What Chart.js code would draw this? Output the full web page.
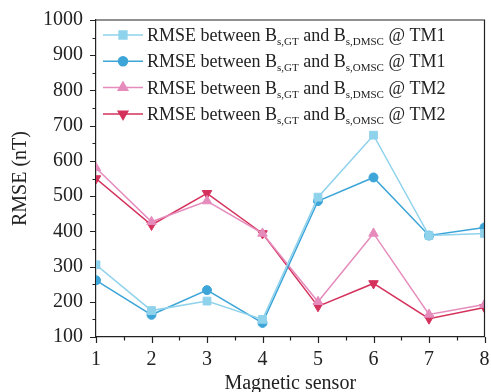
<!DOCTYPE html>
<html>
<head>
<meta charset="utf-8">
<script src="https://cdn.jsdelivr.net/npm/chart.js@4.4.0/dist/chart.umd.min.js"></script>
<style>
html, body { margin: 0; padding: 0; background: #fff; }
</style>
</head>
<body>
<canvas id="chart" width="491" height="392"></canvas>
<script>
// values
const sensors = [1, 2, 3, 4, 5, 6, 7, 8]
const dmscTM1 = [305, 175, 202, 150, 497, 673, 388, 394]
const omscTM1 = [261, 163, 233, 140, 486, 553, 388, 411]
const dmscTM2 = [580, 427, 486, 394, 200, 394, 164, 192]
const omscTM2 = [550, 418, 508, 394, 187, 252, 152, 184]
const legendSubs = [["s,GT", "s,DMSC", "TM1"], ["s,GT", "s,OMSC", "TM1"], ["s,GT", "s,DMSC", "TM2"], ["s,GT", "s,OMSC", "TM2"]]

const serif = '"Liberation Serif", "Times New Roman", serif'
const axisColor = "#222"

function makeSet(label, values, color, pointStyle, radius, rotation) {
	return {
		label,
		data: values.map((v, i) => ({x: sensors[i], y: v})),
		borderColor: color,
		backgroundColor: color,
		borderWidth: 1.5,
		pointStyle,
		pointRadius: radius,
		pointRotation: rotation || 0,
		pointBorderWidth: 1,
		tension: 0
	}
}

// legend with subscripts, drawn in the plot corner
const legendPlugin = {
	id: "subLegend",
	afterDraw(chart) {
		const ctx = chart.ctx
		const sets = chart.data.datasets
		ctx.save()
		sets.forEach((ds, i) => {
			const y = 35 + i * 26.3
			ctx.strokeStyle = ds.borderColor
			ctx.lineWidth = 1.5
			ctx.beginPath()
			ctx.moveTo(103, y)
			ctx.lineTo(143, y)
			ctx.stroke()
			ctx.fillStyle = ds.backgroundColor
			Chart.helpers.drawPoint(ctx, {pointStyle: ds.pointStyle, radius: ds.pointRadius, rotation: ds.pointRotation, borderWidth: 1}, 123, y)

			const subs = legendSubs[i]
			let x = 147
			ctx.fillStyle = "#222"
			ctx.textBaseline = "alphabetic"
			const base = y + 6
			const parts = [
				["RMSE between B", 18, 0],
				[subs[0], 11, 4],
				[" and B", 18, 0],
				[subs[1], 11, 4],
				[" @ " + subs[2], 18, 0]
			]
			for (let p of parts) {
				ctx.font = p[1] + "px " + serif
				ctx.fillText(p[0], x, base + p[2])
				x += ctx.measureText(p[0]).width
			}
		})
		ctx.restore()
	}
}

// outward major/minor ticks and the closing frame
const frameTicks = {
	id: "frameTicks",
	afterDraw(chart) {
		const ctx = chart.ctx
		const area = chart.chartArea
		const xs = chart.scales.x
		const ys = chart.scales.y
		ctx.save()
		ctx.strokeStyle = axisColor
		ctx.lineWidth = 1.2
		ctx.beginPath()
		ctx.moveTo(area.left, area.top)
		ctx.lineTo(area.right, area.top)
		ctx.lineTo(area.right, area.bottom)
		for (let v = 100; v <= 1000; v += 50) {
			const py = Math.round(ys.getPixelForValue(v)) + 0.5
			const len = v % 100 === 0 ? 6 : 3.5
			ctx.moveTo(area.left, py)
			ctx.lineTo(area.left - len, py)
		}
		for (let v = 1; v <= 8; v += 0.5) {
			const px = Math.round(xs.getPixelForValue(v)) + 0.5
			const len = v % 1 === 0 ? 6 : 3.5
			ctx.moveTo(px, area.bottom)
			ctx.lineTo(px, area.bottom + len)
		}
		ctx.stroke()
		ctx.restore()
	}
}

const chart = new Chart(document.getElementById("chart").getContext("2d"), {
	type: "line",
	data: {
		datasets: [
			makeSet("RMSE between Bs,GT and Bs,DMSC @ TM1", dmscTM1, "#8fd2ec", "rect", 5.5),
			makeSet("RMSE between Bs,GT and Bs,OMSC @ TM1", omscTM1, "#3da5d8", "circle", 4.5),
			makeSet("RMSE between Bs,GT and Bs,DMSC @ TM2", dmscTM2, "#e58cbd", "triangle", 5.5),
			makeSet("RMSE between Bs,GT and Bs,OMSC @ TM2", omscTM2, "#d4325c", "triangle", 5.5, 180)
		]
	},
	options: {
		responsive: false,
		animation: false,
		layout: {padding: {top: 20, right: 3, left: 0, bottom: 0}},
		plugins: {
			legend: {display: false},
			tooltip: {enabled: false}
		},
		scales: {
			x: {
				type: "linear",
				min: 1,
				max: 8,
				grid: {display: false, drawTicks: false},
				border: {display: true, color: axisColor, width: 1.2},
				ticks: {stepSize: 1, padding: 11, color: "#222", font: {family: serif, size: 20}, callback: v => String(v)},
				title: {display: true, text: "Magnetic sensor", color: "#222", font: {family: serif, size: 20, lineHeight: 0.8}, padding: 0},
				afterFit(scale) {
					scale.height = 55
					scale.paddingLeft = 0
					scale.paddingRight = 0
				}
			},
			y: {
				min: 100,
				max: 1000,
				grid: {display: false, drawTicks: false},
				border: {display: true, color: axisColor, width: 1.2},
				ticks: {stepSize: 100, padding: 13, color: "#222", font: {family: serif, size: 20}, callback: v => String(v)},
				title: {display: true, text: "RMSE (nT)", color: "#222", font: {family: serif, size: 20, lineHeight: 1.1}, padding: {top: 10, bottom: 0}},
				afterFit(scale) {
					scale.width = 96
					scale.paddingTop = 0
					scale.paddingBottom = 0
				}
			}
		}
	},
	plugins: [legendPlugin, frameTicks]
})
</script>
</body>
</html>
